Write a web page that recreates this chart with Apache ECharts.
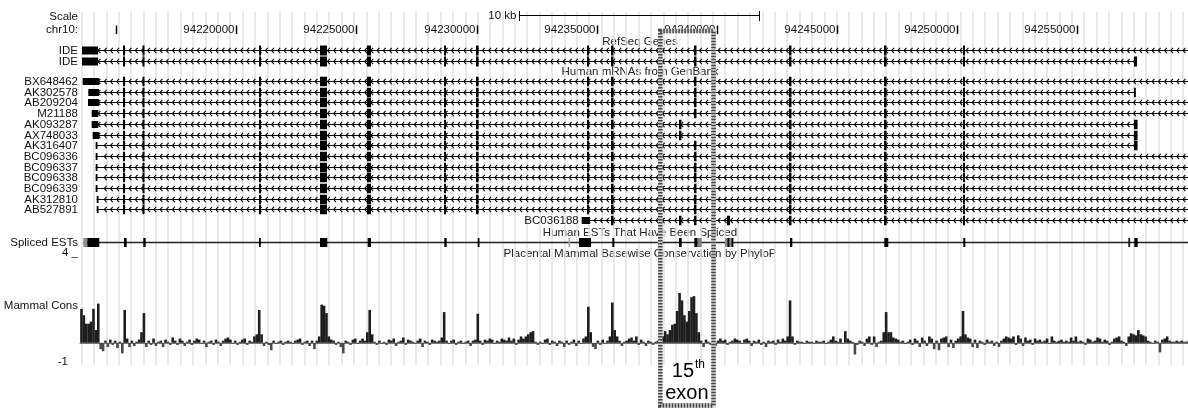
<!DOCTYPE html>
<html><head><meta charset="utf-8">
<script src="https://cdn.jsdelivr.net/npm/echarts@6/dist/echarts.min.js"></script>
<style>html,body{margin:0;padding:0;background:#fff;}#chart{width:1188px;height:408px;}</style>
</head><body><div id="chart"></div>
<script>
// ================= DATA =================
const POS_MIN = 94213493, POS_MAX = 94259621;          // chr10 window shown
const rulerTicks  = [94215000,94220000,94225000,94230000,94235000,94240000,94245000,94250000,94255000];
const rulerLabels = ['','94220000','94225000','94230000','94235000','94240000','94245000','94250000','94255000'];
const scaleBar = [94231770, 94241770];
const scaleBarText = '10 kb';

const refseqNames = ['IDE','IDE'];
const mrnaNames = ['BX648462','AK302578','AB209204','M21188','AK093287','AX748033','AK316407',
  'BC096336','BC096337','BC096338','BC096339','AK312810','AB527891','BC036188'];

// shared internal exons (genomic start, end)
const exonsCore = [[94215283,94215366],[94216095,94216178],[94220945,94221028],[94223485,94223776],
  [94225441,94225608],[94228647,94228730],[94229979,94230083],[94234600,94234683],[94235599,94235703]];
const exon15  = [94239054,94239158];
const exonAlt = [94238430,94238534];
const exonBC  = [94240429,94240554];
const exonsDistal = [[94243009,94243113],[94246964,94247068],[94250253,94250336]];
const openEnd = 94262000;   // transcript continues past the window

const refseqFirst = [[94213576,94214242],[94213576,94214242]];
const refseqLast  = [null,[94257373,94257498]];
const mrnaFirst = [[94213605,94214296],[94213839,94214284],[94213826,94214284],[94213980,94214255],
  [94213980,94214255],[94214022,94214296],[94214147,94214201],[94214147,94214201],[94214147,94214201],
  [94214147,94214201],[94214147,94214201],[94214189,94214230],[94214189,94214230],[94234380,94234725]];
const mrnaLast = [null,[94257373,94257440],null,null,[94257373,94257519],[94257373,94257519],
  [94257373,94257519],null,null,null,null,null,null,null];
const mrnaVariant = ['15','15','15','15','alt','alt','15','15','15','15','15','15','15','bc'];

// Spliced ESTs (dense): block start, end and density (0..1)
const estBlocks = [[94213630,94213797],[94213797,94214296],[94215325,94215437],[94216128,94216228],
  [94220945,94221016],[94223485,94223789],[94225470,94225608],[94228659,94228759],[94230050,94230116],
  [94233830,94233872],[94234267,94234767],[94235654,94235737],[94238431,94238543],[94239068,94239209],
  [94239209,94239376],[94240346,94240692],[94240450,94240512],[94240616,94240692],[94243052,94243148],
  [94246978,94247144],[94250267,94250350],[94257136,94257207],[94257386,94257527]];
const estDensity = [0.45,1,1,1,1,1,1,1,1,0.35,1,1,1,1,0.5,0.45,1,1,1,1,1,0.9,1];

// Mammal conservation (PhyloP), 100 bp bins starting at consStart
const consStart = 94213500, consStep = 100;
const consValues = [
1.6,1.3,0.9,0.9,1.0,1.6,0.6,1.85,-0.3,-0.4,0.1,-0.2,0.15,-0.1,0.1,-0.25,0.05,-0.5,1.55,0.2,
-0.2,0.1,-0.15,0.05,0.15,0.5,1.4,-0.2,0.1,-0.1,0.2,-0.15,0.05,0.1,-0.2,0.15,0.05,-0.1,0.25,0.1,
-0.1,0.2,0.1,-0.15,0.05,0.15,-0.1,0.1,0.2,0.15,-0.05,0.1,-0.2,0.05,0.1,-0.1,0.15,0.05,-0.15,0.1,
0.2,0.25,0.15,-0.05,0.1,-0.1,0.05,0.15,0.2,-0.1,0.1,0.05,0.3,0.4,1.55,0.4,-0.15,0.05,-0.1,-0.35,
0.1,-0.05,0.05,0.1,-0.1,0.05,0.1,0.05,-0.05,0.1,0.15,0.2,-0.1,0.05,0.1,-0.15,0.1,-0.3,0.1,0.3,
1.8,1.75,1.4,0.3,0.15,0.1,-0.1,0.05,-0.2,-0.5,0.1,0.05,-0.1,0.15,0.2,-0.05,0.1,0.2,0.1,0.5,
1.55,0.4,0.05,-0.1,0.1,-0.05,0.05,-0.1,0.15,0.1,0.2,-0.15,0.05,0.1,0.25,-0.1,0.15,0.1,0.05,-0.05,
0.1,0.2,-0.2,0.1,0.05,-0.1,0.15,0.1,0.05,0.1,0.25,1.45,0.1,-0.05,0.1,0.15,-0.1,0.05,0.1,-0.05,
0.05,0.1,-0.15,0.1,0.15,1.37,0.1,-0.1,0.15,0.1,0.2,0.15,-0.05,0.1,0.05,0.2,0.15,0.1,0.25,0.1,
0.2,-0.1,0.15,0.3,0.2,0.3,0.4,0.5,0.55,0.05,-0.1,0.05,-0.05,0.15,0.2,-0.1,0.1,0.05,-0.15,0.1,
0.05,-0.2,0.1,-0.1,0.05,0.15,-0.15,0.1,-0.05,0.2,0.3,1.7,0.5,-0.2,-0.3,0.1,-0.1,0.15,-0.05,0.1,
0.3,1.9,0.6,0.3,0.1,-0.15,0.05,0.1,0.2,0.25,0.1,0.3,-0.1,0.15,0.05,-0.15,0.1,0.05,-0.1,0.05,
0.1,0.15,0.3,0.55,0.4,0.6,0.85,0.9,1.5,2.35,2.0,1.3,1.0,1.5,2.15,2.2,1.4,0.5,0.1,-0.2,
0.15,0.05,-0.1,0.2,-0.15,0.1,0.2,0.1,0.15,-0.1,0.05,0.1,0.2,0.15,0.1,-0.05,0.15,0.2,0.1,-0.15,
0.1,0.05,0.15,-0.1,0.05,-0.2,0.1,0.05,0.1,-0.1,0.15,0.05,0.2,0.1,0.3,2.0,0.3,-0.1,0.1,0.05,
0.05,-0.05,0.1,0.05,0.05,-0.05,0.1,0.05,0.05,0.1,-0.05,0.05,0.15,0.3,0.1,0.05,0.2,-0.05,0.55,0.2,
0.1,0.05,-0.55,-0.1,0.1,0.05,-0.15,0.2,0.3,-0.1,0.3,-0.2,0.05,0.1,0.5,1.45,0.5,0.5,0.25,0.2,
0.15,0.05,0.1,-0.05,0.05,0.15,-0.1,0.2,0.1,-0.2,0.25,0.1,-0.15,0.3,0.2,-0.3,0.1,-0.35,0.2,0.25,
0.3,-0.2,0.15,-0.25,0.1,0.2,0.3,1.5,0.4,0.25,0.2,-0.2,0.15,-0.25,0.1,0.05,-0.1,0.15,0.05,0.1,
-0.15,0.05,-0.2,0.1,0.2,0.3,0.25,0.2,0.3,-0.1,0.35,0.2,-0.15,0.25,0.1,0.15,-0.1,0.2,0.1,0.15,
0.05,0.1,0.2,-0.05,0.3,0.1,0.05,0.1,0.15,0.05,0.1,0.05,0.25,0.1,0.3,0.05,0.1,0.05,-0.1,0.2,
0.15,0.05,0.1,0.25,0.2,0.05,0.15,0.1,-0.1,0.05,0.2,0.25,0.3,0.1,0.05,-0.15,0.3,0.45,0.4,0.35,
0.6,0.4,0.35,0.3,0.1,0.05,-0.05,0.1,0.05,-0.45,0.15,0.2,0.3,0.1,0.05,0.05,0.1,0.05,0.1,0.05,
0.05,0.1];

const highlightRegion = [94237652, 94239867];
const highlightText = ['15', 'th', 'exon'];

// ================= LAYOUT / BUILD =================
const FONT = '"Liberation Sans", Arial, sans-serif';
const LBL = '11.5px ' + FONT;
const CHEV = 6.2;
const refY = [50, 61];
const mrnaY0 = 81, mrnaDY = 10.7;
const estY = 242;

const transcripts = [];
refseqNames.forEach((n, i) => {
  const blocks = [refseqFirst[i], ...exonsCore, exon15, ...exonsDistal];
  if (refseqLast[i]) blocks.push(refseqLast[i]);
  transcripts.push({name: n, y: refY[i], start: refseqFirst[i][0],
    end: refseqLast[i] ? refseqLast[i][1] : openEnd, blocks, h: 10, firstH: 8});
});
mrnaNames.forEach((n, i) => {
  let mid;
  if (mrnaVariant[i] === 'bc') mid = [exonsCore[8], exonAlt, exon15, exonBC];
  else mid = [...exonsCore, mrnaVariant[i] === 'alt' ? exonAlt : exon15];
  const blocks = [mrnaFirst[i], ...mid, ...exonsDistal];
  if (mrnaLast[i]) blocks.push(mrnaLast[i]);
  transcripts.push({name: n, y: mrnaY0 + i * mrnaDY, start: mrnaFirst[i][0],
    end: mrnaLast[i] ? mrnaLast[i][1] : openEnd, blocks, h: 9.5, firstH: 7});
});

function txt(text, x, y, align, font, fill) {
  return {type: 'text', style: {text, x, y, font: font || LBL, fill: fill || '#111',
    align: align || 'right', textAlign: align || 'right', verticalAlign: 'middle', textVerticalAlign: 'middle'}};
}

function renderTranscript(params, api) {
  const t = transcripts[api.value(0)];
  const y = Math.round(t.y) + 0.5;
  const xs = api.coord([t.start, 0])[0];
  const xe = Math.min(api.coord([t.end, 0])[0], 1190);
  const ch = [];
  ch.push({type: 'line', shape: {x1: xs, y1: y, x2: xe, y2: y}, style: {stroke: '#000', lineWidth: 1.2}});
  let x = 80 + Math.ceil((xs + 3 - 80) / CHEV) * CHEV;
  for (; x < xe - 2; x += CHEV) {
    ch.push({type: 'polyline', shape: {points: [[x + 1.8, y - 2.7], [x - 0.5, y], [x + 1.8, y + 2.7]]},
      style: {stroke: '#000', lineWidth: 1.1, fill: null}});
  }
  t.blocks.forEach((b, k) => {
    const a = api.coord([b[0], 0])[0], c = api.coord([b[1], 0])[0];
    const h = k === 0 ? t.firstH : t.h;
    ch.push({type: 'rect', shape: {x: a, y: y - h / 2, width: Math.max(c - a, 1.8), height: h}, style: {fill: '#000'}});
  });
  if (xs > 200) ch.push(txt(t.name, xs - 3, y, 'right'));
  else ch.push(txt(t.name, 78, y, 'right'));
  return {type: 'group', children: ch};
}

function renderEst(params, api) {
  const y = estY + 0.5;
  const xs = api.coord([estBlocks[0][0], 0])[0];
  const ch = [{type: 'line', shape: {x1: xs, y1: y, x2: 1190, y2: y}, style: {stroke: '#222', lineWidth: 1.5}}];
  estBlocks.forEach((b, k) => {
    const a = api.coord([b[0], 0])[0], c = api.coord([b[1], 0])[0];
    const g = Math.round(255 * (1 - estDensity[k]));
    ch.push({type: 'rect', shape: {x: a, y: y - 4.5, width: Math.max(c - a, 1.8), height: 9},
      style: {fill: 'rgb(' + g + ',' + g + ',' + g + ')'}});
  });
  ch.push(txt('Spliced ESTs', 78, y, 'right'));
  return {type: 'group', children: ch};
}

function renderCons(params, api) {
  const pos = api.value(0), v = api.value(1);
  const p0 = api.coord([pos, 0]), p1 = api.coord([pos + consStep, v]);
  const top = Math.min(p0[1], p1[1]);
  return {type: 'rect', shape: {x: p0[0], y: top, width: p1[0] - p0[0] + 0.2, height: Math.max(Math.abs(p1[1] - p0[1]), 0.8)},
    style: {fill: v >= 0 ? '#1e1e1e' : '#4a4a4a'}};
}

function renderRuler(params, api) {
  const i = params.dataIndex;
  const x = Math.round(api.coord([api.value(0), 0])[0]) + 0.5;
  const ch = [{type: 'line', shape: {x1: x, y1: 25.5, x2: x, y2: 34}, style: {stroke: '#000', lineWidth: 1.5}}];
  if (rulerLabels[i]) ch.push(txt(rulerLabels[i], x - 2, 30, 'right'));
  return {type: 'group', children: ch};
}

function renderScaleBar(params, api) {
  const a = Math.round(api.coord([api.value(0), 0])[0]) + 0.5;
  const b = Math.round(api.coord([api.value(1), 0])[0]) + 0.5;
  return {type: 'group', children: [
    {type: 'line', shape: {x1: a, y1: 15.5, x2: b, y2: 15.5}, style: {stroke: '#000', lineWidth: 1}},
    {type: 'line', shape: {x1: a, y1: 11, x2: a, y2: 21}, style: {stroke: '#000', lineWidth: 1}},
    {type: 'line', shape: {x1: b, y1: 11, x2: b, y2: 21}, style: {stroke: '#000', lineWidth: 1}},
    txt(scaleBarText, a - 3, 16, 'right')
  ]};
}

function renderHighlight(params, api) {
  const a = api.coord([api.value(0), 0])[0], b = api.coord([api.value(1), 0])[0];
  const cx = (a + b) / 2;
  const r = {x: a, y: 31, width: b - a, height: 374.5};
  return {type: 'group', children: [
    {type: 'rect', shape: r, style: {fill: null, stroke: '#d4d4d4', lineWidth: 4.5}},
    {type: 'rect', shape: r, style: {fill: null, stroke: '#444', lineWidth: 4.5, lineDash: [1.5, 1.5]}},
    txt(highlightText[0], cx - 4, 371, 'center', '20px ' + FONT, '#000'),
    txt(highlightText[1], cx + 13, 365, 'center', '12px ' + FONT, '#000'),
    txt(highlightText[2], cx, 393, 'center', '20px ' + FONT, '#000')
  ]};
}

const hiddenAxis = {axisLine: {show: false}, axisTick: {show: false}, axisLabel: {show: false}, splitLine: {show: false}};

const option = {
  animation: false,
  backgroundColor: '#fff',
  grid: [
    {left: 80, right: 0, top: 0, bottom: 0, outerBoundsMode: 'none'},
    {left: 80, right: 0, top: 258, height: 106, outerBoundsMode: 'none'},
    {left: 81.6, top: 12, width: 1101.6, height: 353, outerBoundsMode: 'none'}
  ],
  xAxis: [
    Object.assign({type: 'value', gridIndex: 0, min: POS_MIN, max: POS_MAX}, hiddenAxis),
    Object.assign({type: 'value', gridIndex: 1, min: POS_MIN, max: POS_MAX}, hiddenAxis,
      {axisLine: {show: true, onZero: true, lineStyle: {color: '#777', width: 1}}}),
    Object.assign({type: 'value', gridIndex: 2, min: 0, max: 89, interval: 1}, hiddenAxis,
      {splitLine: {show: true, lineStyle: {color: '#e2e2e2', width: 1.5}}})
  ],
  yAxis: [
    Object.assign({type: 'value', gridIndex: 0, min: 0, max: 408, inverse: true}, hiddenAxis),
    Object.assign({type: 'value', gridIndex: 1, min: -1, max: 4}, hiddenAxis),
    Object.assign({type: 'value', gridIndex: 2, min: 0, max: 1}, hiddenAxis)
  ],
  graphic: {elements: [
    txt('Scale', 78, 17), txt('chr10:', 78, 30),
    txt('RefSeq Genes', 640, 41.5, 'center', null, '#222'),
    txt('Human mRNAs from GenBank', 640, 72, 'center', null, '#222'),
    txt('Human ESTs That Have Been Spliced', 640, 233, 'center', null, '#222'),
    txt('Placental Mammal Basewise Conservation by PhyloP', 640, 253.5, 'center', null, '#222'),
    txt('4 _', 78, 253), txt('Mammal Cons', 78, 306), txt('-1', 68, 362)
  ]},
  series: [
    {type: 'custom', xAxisIndex: 1, yAxisIndex: 1, renderItem: renderCons, clip: false,
      data: consValues.map((v, i) => [consStart + i * consStep, v]), z: 3},
    {type: 'custom', xAxisIndex: 0, yAxisIndex: 0, renderItem: renderTranscript,
      data: transcripts.map((t, i) => [i]), z: 3},
    {type: 'custom', xAxisIndex: 0, yAxisIndex: 0, renderItem: renderEst, data: [[0]], z: 3},
    {type: 'custom', xAxisIndex: 0, yAxisIndex: 0, renderItem: renderRuler, data: rulerTicks.map(p => [p]), z: 3},
    {type: 'custom', xAxisIndex: 0, yAxisIndex: 0, renderItem: renderScaleBar, data: [scaleBar], z: 3},
    {type: 'custom', xAxisIndex: 0, yAxisIndex: 0, renderItem: renderHighlight, data: [highlightRegion], z: 10}
  ]
};
const chart = echarts.init(document.getElementById('chart'));
chart.setOption(option);
</script>
</body></html>
